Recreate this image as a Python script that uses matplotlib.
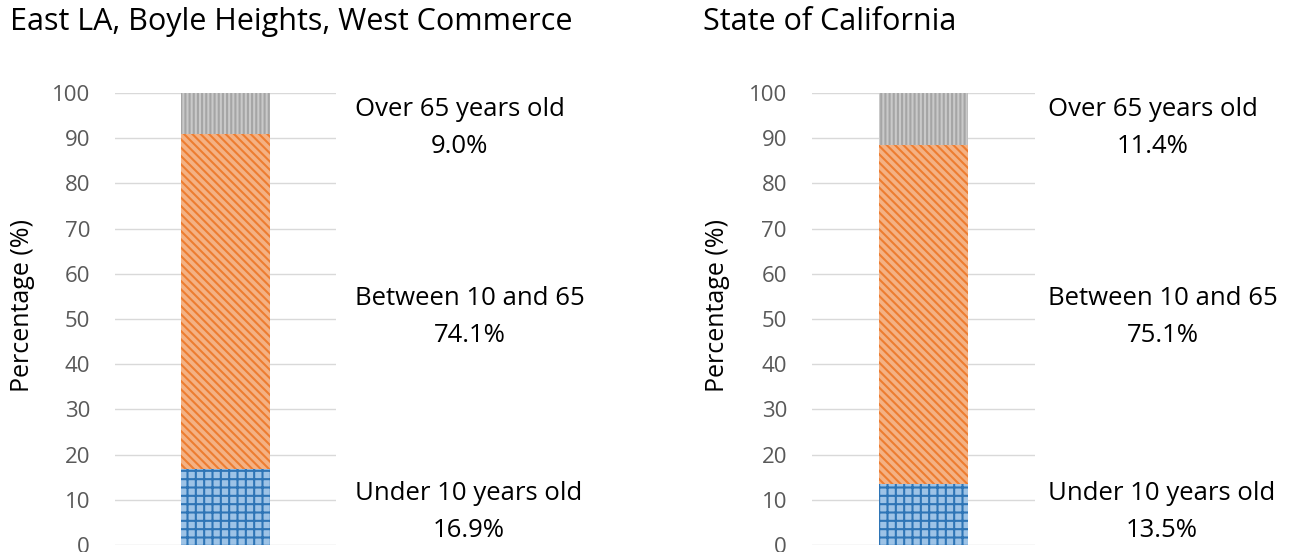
import matplotlib
matplotlib.use("Agg")
import matplotlib.pyplot as plt

plt.rcParams['font.family'] = ['Open Sans', 'DejaVu Sans']
plt.rcParams['hatch.linewidth'] = 1.5

titles = ["East LA, Boyle Heights, West Commerce", "State of California"]
groups = ["Under 10 years old", "Between 10 and 65", "Over 65 years old"]
east_la = [16.9, 74.1, 9.0]
california = [13.5, 75.1, 11.4]
y_ticks = [0, 10, 20, 30, 40, 50, 60, 70, 80, 90, 100]

face_colors = ['#9dc3e6', '#f4b183', '#c9c9c9']
hatch_colors = ['#2e75b6', '#ed7d31', '#a5a5a5']
hatches = ['++', '\\\\\\\\', '||||']

W, H = 1290, 552
fig = plt.figure(figsize=(12.9, 5.52), dpi=100, facecolor='w')

# pixel layout of the two panels
panels = [
  dict(ax_x=115, ax_w=221, title_x=10, ylab_x=23, text_x=355),
  dict(ax_x=812, ax_w=223, title_x=703, ylab_x=717, text_x=1048),
]
ax_top, ax_bot = 93, 545
text_y = [512, 317, 128]


def px(x, y):
  return x / W, 1 - y / H


for data, title, p in zip([east_la, california], titles, panels):
  ax = fig.add_axes([p['ax_x'] / W, 1 - ax_bot / H, p['ax_w'] / W, (ax_bot - ax_top) / H])
  bottom = 0
  for val, fc, hc, hat in zip(data, face_colors, hatch_colors, hatches):
    ax.bar(0, val, 0.4, bottom=bottom, color=fc, edgecolor=hc, hatch=hat, linewidth=0)
    bottom += val
  ax.set_xlim(-0.5, 0.5)
  ax.set_ylim(0, 100)
  ax.set_yticks(y_ticks)
  ax.set_yticklabels([str(t) for t in y_ticks], fontsize=16, color='#595959')
  ax.set_xticks([])
  ax.tick_params(axis='y', length=0, pad=18)
  for s in ax.spines.values():
    s.set_visible(False)
  ax.grid(axis='y', color='#d9d9d9', linewidth=1)
  ax.set_axisbelow(True)

  fig.text(*px(p['title_x'], 22), title, fontsize=22, ha='left', va='center')
  fig.text(*px(p['ylab_x'], 306), "Percentage (%)", fontsize=18, rotation=90,
           ha='center', va='center')
  for name, val, ty in zip(groups, data, text_y):
    fig.text(*px(p['text_x'], ty), "{}\n{:.1f}%".format(name, val), fontsize=18.5,
             ha='left', va='center', multialignment='center', linespacing=1.6)

fig.savefig("out.png", dpi=100)
